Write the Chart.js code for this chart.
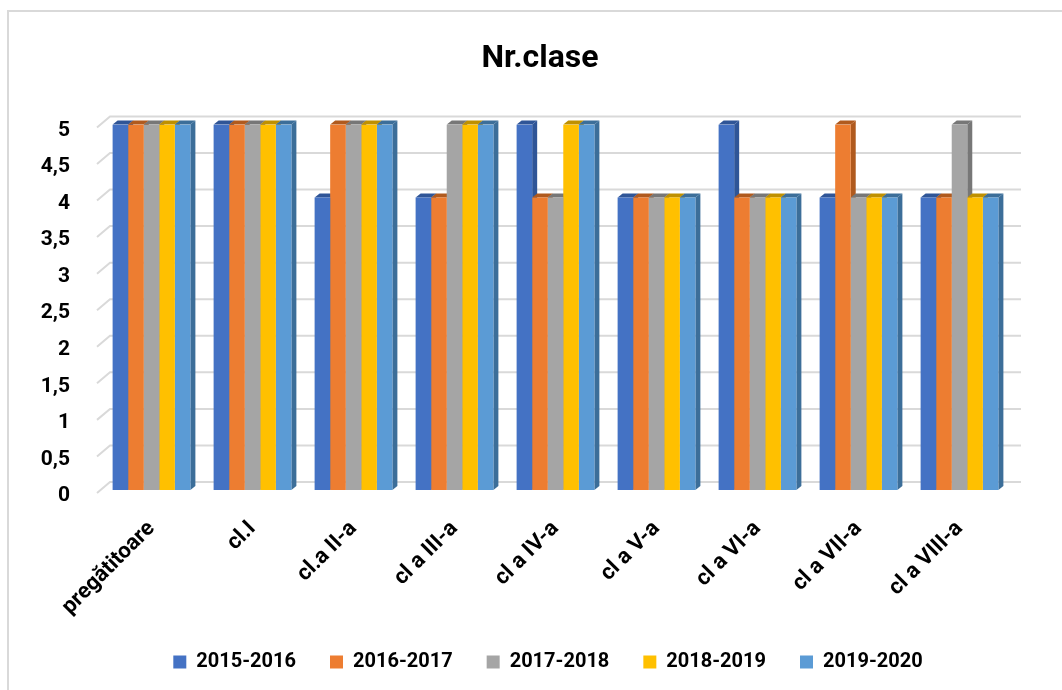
<!DOCTYPE html>
<html>
<head>
<meta charset="utf-8">
<script src="https://cdn.jsdelivr.net/npm/chart.js@4"></script>
<style>
  body { margin: 0; background: #fff; }
  #wrap { position: relative; width: 1062px; height: 690px; }
  #frame { position: absolute; left: 7px; top: 10px; width: 1100px; height: 700px;
           border-left: 2px solid #d9d9d9; border-top: 2px solid #d9d9d9; pointer-events: none; }
</style>
</head>
<body>
<div id="wrap">
  <canvas id="chart" width="1062" height="690"></canvas>
  <div id="frame"></div>
</div>
<script>
const categories = ['pregătitoare', 'cl.I', 'cl.a II-a', 'cl a III-a', 'cl a IV-a', 'cl a V-a', 'cl a VI-a', 'cl a VII-a', 'cl a VIII-a'];
const seriesNames = ['2015-2016', '2016-2017', '2017-2018', '2018-2019', '2019-2020'];
const y2015 = [5, 5, 4, 4, 5, 4, 5, 4, 4];
const y2016 = [5, 5, 5, 4, 4, 4, 4, 5, 4];
const y2017 = [5, 5, 5, 5, 4, 4, 4, 4, 5];
const y2018 = [5, 5, 5, 5, 5, 4, 4, 4, 4];
const y2019 = [5, 5, 5, 5, 5, 4, 4, 4, 4];
const colors = ['#4472C4', '#ED7D31', '#A5A5A5', '#FFC000', '#5B9BD5'];
const sideColors = ['#2F5597', '#B05A1E', '#777777', '#BF9000', '#3C6E99'];

const FONT = 'Roboto, "Liberation Sans", sans-serif';
const DX = 5, DY = 4;

// grila pe peretele din spate + fetele 3D ale barelor
const depth3d = {
  id: 'depth3d',
  afterLayout(chart) {
    // titlul si legenda sunt centrate pe tot cadrul, nu pe zona graficului
    chart.legend.left += 43; chart.legend.right += 43;
    chart.titleBlock.left += 35; chart.titleBlock.right += 35;
  },
  beforeDatasetsDraw(chart) {
    const c = chart.ctx;
    const area = chart.chartArea;
    const ys = chart.scales.y;
    c.save();
    c.strokeStyle = '#d9d9d9';
    c.lineWidth = 2;
    ys.ticks.forEach(t => {
      const y = ys.getPixelForValue(t.value);
      c.beginPath();
      c.moveTo(area.left - 4, y + 3);
      c.lineTo(area.left + 9, y - 8);
      c.lineTo(area.right + 11, y - 8);
      c.stroke();
    });
    const n = categories.length;
    for (let i = 0; i < n; i++) {
      for (let d = 0; d < seriesNames.length; d++) {
        const bar = chart.getDatasetMeta(d).data[i];
        const x0 = bar.x - bar.width / 2, x1 = bar.x + bar.width / 2;
        const top = bar.y, base = bar.base;
        c.fillStyle = sideColors[d];
        c.beginPath();
        c.moveTo(x1, top);
        c.lineTo(x1 + DX, top - DY);
        c.lineTo(x1 + DX, base - DY);
        c.lineTo(x1, base);
        c.closePath();
        c.fill();
        c.beginPath();
        c.moveTo(x0, top);
        c.lineTo(x0 + DX, top - DY);
        c.lineTo(x1 + DX, top - DY);
        c.lineTo(x1, top);
        c.closePath();
        c.fill();
      }
    }
    c.restore();
  }
};

const allValues = [y2015, y2016, y2017, y2018, y2019];

new Chart(document.getElementById('chart'), {
  type: 'bar',
  data: {
    labels: categories,
    datasets: seriesNames.map((name, i) => ({
      label: name,
      data: allValues[i],
      backgroundColor: colors[i],
      borderWidth: 0
    }))
  },
  options: {
    responsive: false,
    animation: false,
    categoryPercentage: 0.77,
    barPercentage: 1,
    layout: { padding: { left: 0, right: 52, top: 0, bottom: 8 } },
    plugins: {
      tooltip: { enabled: false },
      title: {
        display: true,
        text: 'Nr.clase',
        color: '#000',
        font: { family: FONT, size: 32, weight: 'bold' },
        padding: { top: 40, bottom: 46 }
      },
      legend: {
        position: 'bottom',
        labels: {
          color: '#000',
          font: { family: FONT, size: 20, weight: 'bold' },
          boxWidth: 13,
          boxHeight: 13,
          padding: 34
        }
      }
    },
    scales: {
      x: {
        grid: { display: false },
        border: { display: false },
        ticks: {
          color: '#000',
          font: { family: FONT, size: 22, weight: 'bold' },
          maxRotation: 45,
          minRotation: 45,
          padding: 18
        },
        afterFit(scale) { scale.height = 128; }
      },
      y: {
        min: 0,
        max: 5,
        grid: { display: false },
        border: { display: false },
        ticks: {
          stepSize: 0.5,
          color: '#000',
          font: { family: FONT, size: 21, weight: 'bold' },
          padding: 23,
          labelOffset: 6,
          callback: v => String(v).replace('.', ',')
        },
        afterFit(scale) { scale.width = 101; }
      }
    }
  },
  plugins: [depth3d]
});
</script>
</body>
</html>
